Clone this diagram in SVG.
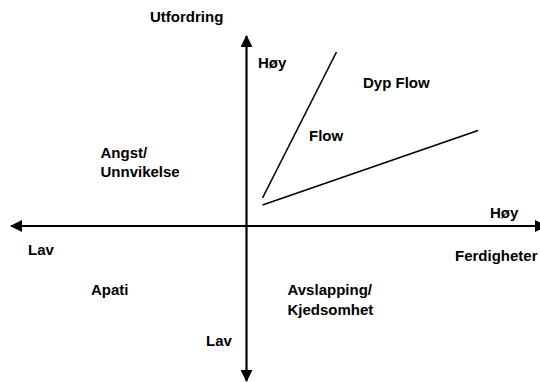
<svg xmlns="http://www.w3.org/2000/svg" width="540" height="382" viewBox="0 0 540 382">
<style>
  text { font-family: "Liberation Sans", Arial, sans-serif; font-size: 15px; font-weight: bold; fill: #000; }
  .axis { stroke: #000; stroke-width: 2.2; fill: none; }
  .flow { stroke: #000; stroke-width: 1.6; fill: none; }
</style>
<defs>
  <marker id="arrow" viewBox="0 0 12 12" refX="11" refY="6" markerWidth="12" markerHeight="12" markerUnits="userSpaceOnUse" orient="auto">
    <path d="M0,0 L12,6 L0,12 Z" fill="#000"/>
  </marker>
</defs>
<rect width="540" height="382" fill="#fff"/>
<g id="connectors">
  <line class="axis" x1="246.5" y1="220" x2="246.5" y2="36" marker-end="url(#arrow)"/>
  <line class="axis" x1="246.5" y1="220" x2="246.5" y2="381" marker-end="url(#arrow)"/>
  <line class="axis" x1="246.5" y1="226" x2="11" y2="226" marker-end="url(#arrow)"/>
  <line class="axis" x1="246.5" y1="226" x2="546" y2="226" marker-end="url(#arrow)"/>
  <line class="flow" x1="262.5" y1="198" x2="336.5" y2="52"/>
  <line class="flow" x1="262.5" y1="205" x2="478" y2="130.5"/>
</g>
<g id="label-utfordring"><text x="150" y="22">Utfordring</text></g>
<g id="label-hoy-top"><text x="258" y="68">Høy</text></g>
<g id="label-dypflow"><text x="363" y="88">Dyp Flow</text></g>
<g id="label-flow"><text x="309" y="141">Flow</text></g>
<g id="label-angst"><text x="100.5" y="158">Angst/</text><text x="100.5" y="176.5">Unnvikelse</text></g>
<g id="label-hoy-right"><text x="490" y="218">Høy</text></g>
<g id="label-lav-left"><text x="28" y="255">Lav</text></g>
<g id="label-ferdigheter"><text x="455" y="261">Ferdigheter</text></g>
<g id="label-apati"><text x="91" y="294.5">Apati</text></g>
<g id="label-avslapping"><text x="287.5" y="294.5">Avslapping/</text><text x="287.5" y="315">Kjedsomhet</text></g>
<g id="label-lav-bottom"><text x="206" y="346">Lav</text></g>
</svg>
